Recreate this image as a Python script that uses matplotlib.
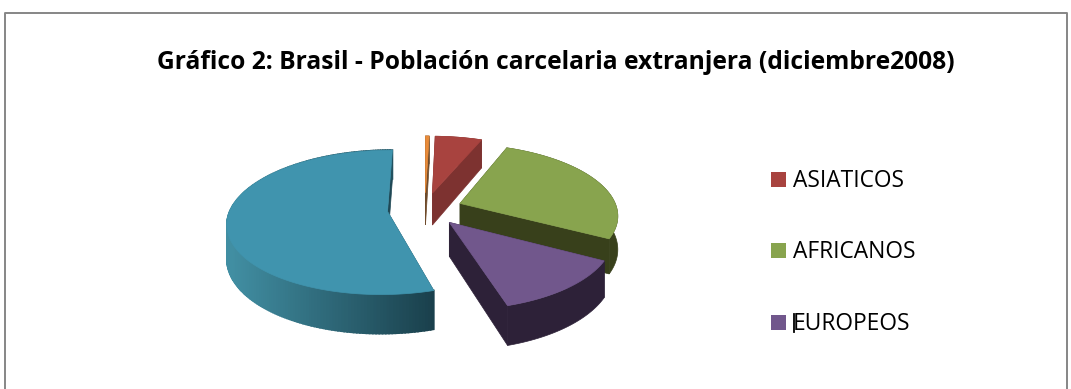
import numpy as np
import matplotlib
matplotlib.use('Agg')
import matplotlib.pyplot as plt
from matplotlib.patches import Polygon, Rectangle

title = 'Gráfico 2: Brasil - Población carcelaria extranjera (diciembre2008)'
categories = ['OTROS', 'ASIATICOS', 'AFRICANOS', 'EUROPEOS', 'AMERICANOS']
values = [0.45, 5.65, 26.9, 12.4, 54.6]
top_colors = ['#E88B3A', '#A8433F', '#88A44E', '#71578C', '#4094AE']
wall_colors = ['#6E4A2A', '#7D3230', '#38401B', '#2D2138', None]
legend_names = ['ASIATICOS', 'AFRICANOS', 'EUROPEOS']
legend_colors = ['#A8433F', '#88A44E', '#71578C']

# pie geometry in pixels
cx, cy = 425, 209
radius = 157
squash = 0.445
persp = 0.15
height = 33
explode = 0.24


def project(u, v, drop=0.0):
    w = 1 / (1 + persp * v)
    return cx + radius * u * w, cy - radius * squash * v * w + height * drop * w


fig = plt.figure(figsize=(10.71, 3.89), dpi=100)
ax = fig.add_axes([0, 0, 1, 1])
ax.set_xlim(0, 1071)
ax.set_ylim(389, 0)
ax.axis('off')

# chart border, bottom edge is cut off in the picture
ax.plot([4.5, 4.5, 1066.5, 1066.5], [389, 12.5, 12.5, 389], color='#868686', lw=1.4)

ax.text(555.5, 62, title, ha='center', va='center', fontsize=17.7, fontweight='bold',
        family='Open Sans', color='black')

fractions = np.array(values) / sum(values) * 360
starts = np.concatenate([[0], np.cumsum(fractions)[:-1]])

for i in range(len(values)):
    a0, a1 = np.radians(starts[i]), np.radians(starts[i] + fractions[i])
    mid = (a0 + a1) / 2
    u0, v0 = explode * np.sin(mid), explode * np.cos(mid)
    arc = np.linspace(a0, a1, max(int(fractions[i]), 3) + 1)
    us = u0 + np.sin(arc)
    vs = v0 + np.cos(arc)

    # radial walls
    wall = wall_colors[i] if wall_colors[i] else '#1F4855'
    for u, v in ((us[0], vs[0]), (us[-1], vs[-1])):
        pts = [project(u0, v0), project(u, v), project(u, v, 1), project(u0, v0, 1)]
        ax.add_patch(Polygon(pts, closed=True, fc=wall, ec=wall, lw=0.5))

    # outer wall, the big slice gets a gradient
    if wall_colors[i]:
        pts = [project(u, v) for u, v in zip(us, vs)] + [project(u, v, 1) for u, v in zip(us[::-1], vs[::-1])]
        ax.add_patch(Polygon(pts, closed=True, fc=wall, ec=wall, lw=0.5))
    else:
        for j in range(len(arc) - 1):
            pts = [project(us[j], vs[j]), project(us[j + 1], vs[j + 1]),
                   project(us[j + 1], vs[j + 1], 1), project(us[j], vs[j], 1)]
            t = np.clip((pts[0][0] - 232) / (434 - 232), 0, 1)
            col = np.array([0x41, 0x8E, 0xA2]) * (1 - t) + np.array([0x1A, 0x40, 0x4C]) * t
            col = col / 255
            ax.add_patch(Polygon(pts, closed=True, fc=col, ec=col, lw=1.2))

    # top face
    top = [project(u0, v0)] + [project(u, v) for u, v in zip(us, vs)]
    ax.add_patch(Polygon(top, closed=True, fc=top_colors[i], ec=top_colors[i], lw=0.5))

# legend
legend_y = [179.5, 250.5, 322.5]
for name, col, y in zip(legend_names, legend_colors, legend_y):
    ax.add_patch(Rectangle((771, y - 7.5), 15, 15, fc=col, ec='none'))
    ax.text(793, y + 1, name, ha='left', va='center', fontsize=16.4, family='Open Sans', color='black')
# stray mark in front of EUROPEOS
ax.plot([794, 794], [314, 332], color='black', lw=1.3)

fig.savefig('out.png', dpi=100)
